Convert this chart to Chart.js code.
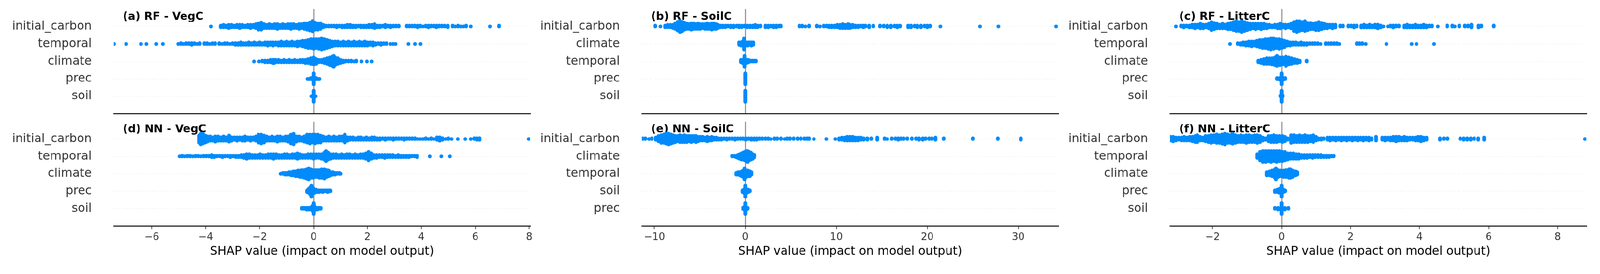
<!DOCTYPE html>
<html><head><meta charset="utf-8">
<script src="https://cdn.jsdelivr.net/npm/chart.js@4.4.0/dist/chart.umd.min.js"></script>
<style>
html,body{margin:0;padding:0;background:#fff;overflow:hidden;}
#wrap{position:absolute;left:0;top:0;width:4205px;height:702px;transform-origin:0 0;}
#wrap canvas{position:absolute;}
</style></head><body>
<div id="wrap"></div>
<script>
// ---------- categories ----------
const features_rf_vegc    = ["initial_carbon","temporal","climate","prec","soil"];
const features_rf_soilc   = ["initial_carbon","climate","temporal","prec","soil"];
const features_rf_litterc = ["initial_carbon","temporal","climate","prec","soil"];
const features_nn_vegc    = ["initial_carbon","temporal","climate","prec","soil"];
const features_nn_soilc   = ["initial_carbon","climate","temporal","soil","prec"];
const features_nn_litterc = ["initial_carbon","temporal","climate","prec","soil"];

// ---------- tick labels / axis limits ----------
const ticks_vegc    = [-6,-4,-2,0,2,4,6,8];
const ticks_soilc   = [-10,0,10,20,30];
const ticks_litterc = [-2,0,2,4,6,8];
const xlim_vegc    = [-7.41, 8.03];
const xlim_soilc   = [-11.38, 34.39];
const xlim_litterc = [-3.23, 8.83];

// ---------- SHAP values: [value, number of samples stacked at that value] ----------
// (a) RF - VegC
const a_initial_carbon = [[-3.81,1],[-3.44,3],[-3.34,4],[-3.24,3],[-3.14,5],[-3.04,4],[-2.94,3],[-2.84,4],[-2.74,5],[-2.64,4],[-2.54,3],[-2.44,4],[-2.34,5],[-2.24,4],[-2.14,6],[-2.04,9],[-1.94,10],[-1.84,6],[-1.74,5],[-1.64,6],[-1.54,5],[-1.44,6],[-1.34,7],[-1.24,5],[-1.14,6],[-1.04,5],[-0.94,6],[-0.84,7],[-0.74,6],[-0.64,5],[-0.54,7],[-0.44,6],[-0.34,8],[-0.24,9],[-0.14,11],[-0.04,14],[0.06,10],[0.16,9],[0.26,8],[0.36,4],[0.46,2],[0.56,2],[0.66,2],[0.76,2],[0.86,3],[0.96,2],[1.06,3],[1.16,3],[1.26,4],[1.36,4],[1.46,3],[1.56,3],[1.66,2],[1.76,3],[1.86,3],[1.96,3],[2.06,4],[2.16,4],[2.26,6],[2.36,3],[2.46,3],[2.56,2],[2.66,4],[2.76,2],[2.86,3],[2.96,2],[3.06,2],[3.16,2],[3.46,2],[3.56,2],[3.66,2],[3.76,2],[3.86,3],[3.96,2],[4.06,1],[4.16,2],[4.26,3],[4.36,2],[4.46,2],[4.56,3],[4.66,2],[4.76,2],[4.86,2],[4.98,3],[5.16,2],[5.26,1],[5.36,2],[5.46,1],[5.56,1],[5.66,2],[5.83,1],[6.54,1],[6.88,2]];
const a_temporal = [[-7.40,1],[-6.95,1],[-6.40,1],[-6.20,1],[-5.83,1],[-5.59,1],[-5.02,1],[-4.92,2],[-4.82,1],[-4.72,2],[-4.62,2],[-4.52,3],[-4.42,2],[-4.32,1],[-4.22,2],[-4.05,2],[-3.95,2],[-3.85,1],[-3.75,2],[-3.65,2],[-3.50,2],[-3.40,1],[-3.30,2],[-3.20,2],[-3.10,1],[-3.00,2],[-2.90,3],[-2.80,3],[-2.70,4],[-2.60,3],[-2.50,3],[-2.40,4],[-2.30,3],[-2.20,4],[-2.10,3],[-2.00,4],[-1.90,3],[-1.80,4],[-1.70,5],[-1.60,4],[-1.50,5],[-1.40,4],[-1.30,5],[-1.20,6],[-1.10,5],[-1.00,6],[-0.90,5],[-0.80,6],[-0.70,5],[-0.60,7],[-0.50,6],[-0.40,8],[-0.30,9],[-0.20,11],[-0.10,12],[0.00,13],[0.10,12],[0.20,13],[0.30,15],[0.40,13],[0.50,11],[0.60,9],[0.70,7],[0.80,6],[0.90,6],[1.00,5],[1.10,6],[1.20,5],[1.30,6],[1.40,5],[1.50,6],[1.60,5],[1.70,6],[1.80,5],[1.90,6],[2.00,5],[2.10,4],[2.20,5],[2.30,3],[2.40,2],[2.50,3],[2.60,2],[2.70,2],[2.85,1],[2.95,1],[3.04,1],[3.52,1],[3.76,1],[3.97,1]];
const a_climate = [[-2.21,1],[-2.02,1],[-1.90,2],[-1.80,3],[-1.70,3],[-1.60,4],[-1.50,5],[-1.46,5],[-1.40,4],[-1.30,4],[-1.20,3],[-1.10,4],[-1.00,3],[-0.90,4],[-0.80,3],[-0.70,4],[-0.60,3],[-0.50,4],[-0.40,4],[-0.30,5],[-0.20,6],[-0.10,8],[0.00,10],[0.10,7],[0.20,4],[0.30,4],[0.40,6],[0.50,8],[0.60,11],[0.70,13],[0.75,15],[0.80,11],[0.90,8],[1.00,5],[1.10,3],[1.20,2],[1.30,2],[1.40,2],[1.50,1],[1.58,2],[1.78,1],[1.98,1],[2.15,1]];
const a_prec = [[-0.22,1],[-0.16,1],[-0.10,2],[-0.04,3],[0,15],[0.04,3],[0.10,2],[0.16,1],[0.22,1]];
const a_soil = [[-0.08,1],[-0.03,3],[0,17],[0.03,3],[0.08,1]];

// (b) RF - SoilC
const b_initial_carbon = [[-9.9,2],[-9.34,1],[-8.83,3],[-8.55,4],[-8.25,4],[-7.95,5],[-7.70,8],[-7.45,12],[-7.20,15],[-6.95,13],[-6.70,10],[-6.45,8],[-6.20,7],[-5.95,9],[-5.70,8],[-5.45,7],[-5.20,8],[-4.95,7],[-4.70,6],[-4.45,7],[-4.20,8],[-3.95,7],[-3.70,9],[-3.45,8],[-3.20,7],[-3.03,5],[-2.76,3],[-2.50,3],[-2.20,3],[-1.90,2],[-1.60,3],[-1.30,3],[-0.97,2],[-0.70,3],[-0.40,3],[-0.10,2],[0.20,3],[0.50,3],[0.80,3],[1.08,4],[1.35,3],[1.65,2],[2.20,3],[2.50,3],[2.80,2],[3.10,3],[3.40,3],[3.70,2],[3.88,2],[5.94,2],[6.25,2],[6.6,1],[7.0,2],[7.87,2],[8.2,1],[8.62,2],[8.93,2],[9.2,3],[9.5,3],[9.8,3],[10.1,4],[10.4,5],[10.7,6],[11.0,5],[11.3,6],[11.5,5],[11.8,4],[12.1,3],[12.4,3],[12.7,2],[12.97,3],[13.2,2],[13.6,3],[14.06,2],[14.8,2],[15.2,2],[15.6,3],[16.0,3],[16.4,2],[16.7,3],[17.0,2],[17.9,3],[18.2,3],[18.6,2],[18.9,3],[19.3,3],[19.7,2],[20.0,3],[20.3,2],[21.44,1],[25.8,1],[27.82,1],[34.16,1]];
const b_climate = [[-0.70,4],[-0.50,5],[-0.30,6],[-0.13,15],[0.05,5],[0.25,5],[0.45,4],[0.65,5],[0.85,4]];
const b_temporal = [[-0.50,4],[-0.30,5],[-0.08,15],[0.12,5],[0.33,4],[0.55,2],[0.75,2],[0.95,2],[1.17,2]];
const b_prec = [[0,15]];
const b_soil = [[0,17]];

// (c) RF - LitterC
const c_initial_carbon = [[-3.06,1],[-2.91,2],[-2.83,3],[-2.75,2],[-2.67,3],[-2.59,4],[-2.51,5],[-2.43,4],[-2.35,6],[-2.27,5],[-2.19,4],[-2.11,6],[-2.03,10],[-1.95,8],[-1.87,6],[-1.79,5],[-1.71,6],[-1.63,5],[-1.55,7],[-1.47,8],[-1.39,10],[-1.31,12],[-1.23,11],[-1.15,13],[-1.07,11],[-0.99,9],[-0.91,7],[-0.83,6],[-0.75,7],[-0.67,6],[-0.59,7],[-0.51,6],[-0.43,5],[-0.35,4],[-0.27,3],[-0.19,4],[-0.11,5],[-0.04,6],[0.04,4],[0.12,5],[0.20,4],[0.28,6],[0.36,11],[0.44,13],[0.52,12],[0.60,10],[0.68,12],[0.76,9],[0.84,8],[0.92,7],[1.00,9],[1.08,10],[1.16,8],[1.24,6],[1.32,5],[1.40,4],[1.48,5],[1.56,4],[1.70,2],[1.78,2],[1.94,2],[2.02,2],[2.10,3],[2.18,2],[2.31,3],[2.39,4],[2.47,3],[2.55,4],[2.63,3],[2.71,4],[2.79,5],[2.87,3],[2.95,1],[3.08,1],[3.16,2],[3.24,3],[3.32,2],[3.40,2],[3.56,3],[3.64,4],[3.72,3],[3.80,3],[3.88,4],[3.96,3],[4.04,3],[4.12,4],[4.20,3],[4.28,2],[4.36,2],[4.53,1],[4.80,2],[4.95,2],[5.02,1],[5.15,2],[5.31,2],[5.40,2],[5.50,4],[5.71,3],[5.79,2],[6.15,2]];
const c_temporal = [[-1.49,1],[-1.27,2],[-1.19,3],[-1.11,4],[-1.03,5],[-0.95,6],[-0.87,7],[-0.79,6],[-0.71,8],[-0.63,10],[-0.55,11],[-0.47,12],[-0.39,13],[-0.31,15],[-0.23,14],[-0.15,12],[-0.07,13],[0.01,11],[0.09,9],[0.17,6],[0.25,5],[0.33,4],[0.41,4],[0.49,3],[0.57,4],[0.65,3],[0.73,3],[0.81,2],[0.89,2],[0.97,2],[1.05,2],[1.13,1],[1.28,2],[1.36,2],[1.44,2],[1.52,2],[1.60,2],[1.67,1],[2.18,2],[2.26,2],[2.34,2],[2.44,1],[3.04,1],[3.77,1],[3.91,1],[4.42,1]];
const c_climate = [[-0.67,3],[-0.59,5],[-0.51,7],[-0.43,8],[-0.35,8],[-0.27,9],[-0.19,11],[-0.13,14],[-0.05,11],[0.03,10],[0.13,13],[0.21,10],[0.29,8],[0.37,6],[0.45,5],[0.53,3],[0.73,2]];
const c_prec = [[-0.13,2],[-0.06,3],[0,15],[0.06,3],[0.11,2]];
const c_soil = [[-0.03,2],[0,17],[0.03,2]];

// (d) NN - VegC
const d_initial_carbon = [[-4.25,9],[-4.18,13],[-4.10,12],[-4.02,9],[-3.94,7],[-3.84,6],[-3.74,5],[-3.64,7],[-3.54,6],[-3.44,5],[-3.34,6],[-3.24,5],[-3.13,8],[-3.04,5],[-2.94,4],[-2.84,5],[-2.74,4],[-2.64,5],[-2.54,6],[-2.44,4],[-2.34,5],[-2.24,4],[-2.14,6],[-2.04,10],[-1.94,11],[-1.84,9],[-1.74,6],[-1.64,5],[-1.54,6],[-1.44,5],[-1.34,7],[-1.24,6],[-1.14,5],[-1.04,6],[-0.94,7],[-0.84,11],[-0.74,13],[-0.64,7],[-0.54,6],[-0.44,5],[-0.34,7],[-0.24,10],[-0.14,11],[-0.04,10],[0.06,11],[0.16,10],[0.26,9],[0.36,6],[0.46,5],[0.56,6],[0.66,5],[0.76,6],[0.86,5],[0.96,6],[1.06,6],[1.16,10],[1.26,5],[1.36,4],[1.46,4],[1.56,3],[1.66,4],[1.76,4],[1.86,3],[1.96,4],[2.06,3],[2.16,4],[2.26,4],[2.36,3],[2.46,3],[2.56,2],[2.66,3],[2.76,2],[2.86,2],[2.96,3],[3.06,2],[3.16,2],[3.26,2],[3.36,3],[3.46,2],[3.56,2],[3.66,2],[3.76,2],[3.86,1],[3.96,1],[4.06,1],[4.16,2],[4.26,1],[4.36,2],[4.46,1],[4.58,4],[4.68,5],[4.78,3],[4.90,1],[5.00,2],[5.12,1],[5.35,1],[5.63,1],[5.83,1],[5.96,2],[6.06,3],[6.16,3],[7.98,1]];
const d_temporal = [[-4.97,1],[-4.88,2],[-4.78,1],[-4.68,2],[-4.58,2],[-4.48,1],[-4.38,2],[-4.28,2],[-4.18,1],[-4.08,2],[-3.98,2],[-3.88,2],[-3.78,4],[-3.68,3],[-3.58,2],[-3.48,2],[-3.38,3],[-3.28,2],[-3.18,2],[-3.08,3],[-2.98,2],[-2.88,3],[-2.78,3],[-2.68,4],[-2.58,5],[-2.48,7],[-2.38,6],[-2.28,5],[-2.18,5],[-2.08,5],[-1.98,6],[-1.88,5],[-1.78,5],[-1.68,6],[-1.58,6],[-1.48,7],[-1.38,6],[-1.28,5],[-1.18,5],[-1.08,6],[-0.98,6],[-0.88,5],[-0.78,6],[-0.68,6],[-0.60,8],[-0.50,6],[-0.40,5],[-0.30,5],[-0.20,6],[-0.10,6],[0.00,7],[0.10,6],[0.20,6],[0.30,7],[0.40,10],[0.46,14],[0.54,10],[0.64,7],[0.74,6],[0.84,6],[0.94,5],[1.04,6],[1.14,5],[1.24,6],[1.34,6],[1.44,5],[1.54,6],[1.64,5],[1.74,6],[1.84,6],[1.94,8],[2.04,12],[2.14,8],[2.24,5],[2.34,5],[2.44,4],[2.54,4],[2.64,5],[2.74,4],[2.84,4],[2.94,4],[3.04,3],[3.14,4],[3.24,3],[3.34,3],[3.44,3],[3.54,3],[3.64,2],[3.74,2],[3.84,3],[4.31,1],[4.74,1],[5.06,1]];
const d_climate = [[-1.22,1],[-1.14,2],[-1.06,3],[-0.98,3],[-0.90,4],[-0.82,5],[-0.74,6],[-0.66,7],[-0.58,8],[-0.50,9],[-0.42,10],[-0.34,11],[-0.26,13],[-0.18,15],[-0.10,12],[-0.02,11],[0.06,10],[0.14,10],[0.22,11],[0.30,12],[0.40,13],[0.48,10],[0.56,8],[0.64,5],[0.72,4],[0.80,3],[0.88,2],[0.96,2],[1.00,1]];
const d_prec = [[-0.24,3],[-0.18,6],[-0.12,10],[-0.08,15],[-0.02,8],[0.04,5],[0.10,4],[0.16,3],[0.22,3],[0.28,2],[0.34,3],[0.40,2],[0.46,2],[0.52,3],[0.58,2],[0.63,2]];
const d_soil = [[-0.44,2],[-0.38,2],[-0.32,2],[-0.26,3],[-0.20,3],[-0.14,3],[-0.08,4],[-0.03,8],[0.00,15],[0.04,6],[0.09,3],[0.15,3],[0.21,2],[0.27,2]];

// (e) NN - SoilC
const e_initial_carbon = [[-11.3,2],[-11.0,2],[-10.6,1],[-10.3,2],[-9.85,4],[-9.55,8],[-9.25,11],[-8.95,12],[-8.70,14],[-8.45,15],[-8.20,13],[-7.95,11],[-7.70,9],[-7.45,8],[-7.20,10],[-6.95,9],[-6.70,10],[-6.45,9],[-6.20,8],[-5.95,9],[-5.70,8],[-5.45,9],[-5.20,7],[-4.95,6],[-4.70,6],[-4.45,5],[-4.20,7],[-3.95,5],[-3.70,6],[-3.45,4],[-3.20,4],[-2.95,3],[-2.65,3],[-2.35,2],[-2.05,3],[-1.75,2],[-1.45,2],[-1.15,3],[-0.85,2],[-0.55,2],[-0.25,2],[0.05,3],[0.35,2],[0.65,3],[0.95,3],[1.25,3],[1.55,2],[1.85,2],[2.2,2],[2.5,2],[2.8,1],[3.2,2],[3.5,2],[3.9,2],[4.3,1],[4.6,2],[4.9,2],[5.3,2],[5.73,2],[6.1,2],[6.5,2],[6.8,2],[7.0,2],[7.53,1],[8.89,1],[9.89,1],[10.3,3],[10.6,4],[10.9,5],[11.2,6],[11.5,6],[11.8,6],[12.1,5],[12.4,5],[12.7,4],[13.0,3],[13.4,3],[13.83,2],[14.5,4],[15.3,2],[15.6,1],[16.1,2],[16.5,2],[16.8,3],[17.1,2],[17.4,2],[17.8,2],[18.3,2],[18.75,2],[19.1,3],[19.5,3],[19.8,2],[20.2,2],[20.5,2],[20.9,4],[21.8,2],[25.0,2],[27.76,2],[30.28,3]];
const e_climate = [[-1.44,2],[-1.24,2],[-1.04,3],[-0.84,5],[-0.64,7],[-0.44,9],[-0.24,10],[-0.04,12],[0.12,14],[0.24,15],[0.40,12],[0.60,10],[0.80,7],[0.99,4]];
const e_temporal = [[-1.01,3],[-0.81,4],[-0.61,5],[-0.41,7],[-0.22,9],[-0.08,15],[0.08,9],[0.28,8],[0.48,7],[0.65,4]];
const e_soil = [[-0.33,3],[-0.15,5],[0,15],[0.15,5],[0.32,4],[0.48,2]];
const e_prec = [[-0.26,2],[-0.12,4],[0,15],[0.12,3],[0.24,2]];

// (f) NN - LitterC
const f_initial_carbon = [[-3.22,6],[-3.14,7],[-3.06,5],[-2.98,4],[-2.90,5],[-2.82,6],[-2.74,5],[-2.66,6],[-2.58,7],[-2.50,9],[-2.44,10],[-2.36,6],[-2.28,5],[-2.20,8],[-2.12,9],[-2.04,11],[-1.96,10],[-1.88,12],[-1.80,11],[-1.72,13],[-1.64,15],[-1.56,12],[-1.48,11],[-1.42,14],[-1.34,11],[-1.26,9],[-1.18,10],[-1.10,9],[-1.02,11],[-0.94,10],[-0.86,9],[-0.78,10],[-0.70,11],[-0.62,9],[-0.54,5],[-0.46,3],[-0.38,8],[-0.30,9],[-0.22,10],[-0.14,9],[-0.06,8],[0.02,9],[0.10,7],[0.18,3],[0.28,11],[0.36,10],[0.44,9],[0.52,10],[0.60,9],[0.68,10],[0.76,9],[0.84,8],[0.92,10],[1.00,6],[1.07,3],[1.15,3],[1.22,2],[1.33,4],[1.41,5],[1.49,4],[1.57,5],[1.65,4],[1.73,5],[1.81,4],[1.89,5],[1.97,4],[2.05,5],[2.13,4],[2.21,5],[2.29,4],[2.37,5],[2.45,4],[2.53,5],[2.61,3],[2.74,6],[2.92,4],[3.00,5],[3.08,4],[3.16,5],[3.24,6],[3.32,7],[3.40,6],[3.48,5],[3.56,6],[3.64,5],[3.72,4],[3.80,4],[3.88,5],[3.96,6],[4.04,7],[4.12,5],[4.20,4],[4.59,3],[4.70,2],[4.81,2],[5.18,2],[5.28,3],[5.38,3],[5.48,3],[5.58,2],[5.70,3],[5.87,4],[8.79,1]];
const f_temporal = [[-0.70,6],[-0.62,12],[-0.54,15],[-0.46,15],[-0.38,14],[-0.30,15],[-0.22,14],[-0.14,15],[-0.06,14],[0.02,13],[0.10,12],[0.18,9],[0.26,8],[0.34,8],[0.42,7],[0.50,7],[0.58,5],[0.66,5],[0.74,5],[0.82,4],[0.90,5],[0.98,4],[1.06,4],[1.14,4],[1.22,3],[1.30,3],[1.38,3],[1.46,2],[1.51,2]];
const f_climate = [[-0.43,5],[-0.35,6],[-0.27,8],[-0.19,12],[-0.16,15],[-0.10,10],[-0.02,8],[0.06,9],[0.14,10],[0.22,12],[0.26,12],[0.32,9],[0.40,6],[0.45,4]];
const f_prec = [[-0.19,3],[-0.12,4],[-0.06,6],[0,15],[0.06,4],[0.11,2]];
const f_soil = [[-0.19,2],[-0.1,3],[0,15],[0.1,3],[0.2,2]];

// ---------- panels ----------
const panels = [
  {title:"(a) RF - VegC",   col:0, row:0, features:features_rf_vegc,    rows:[a_initial_carbon,a_temporal,a_climate,a_prec,a_soil], ticks:ticks_vegc, xlim:xlim_vegc},
  {title:"(b) RF - SoilC",  col:1, row:0, features:features_rf_soilc,   rows:[b_initial_carbon,b_climate,b_temporal,b_prec,b_soil], ticks:ticks_soilc, xlim:xlim_soilc},
  {title:"(c) RF - LitterC",col:2, row:0, features:features_rf_litterc, rows:[c_initial_carbon,c_temporal,c_climate,c_prec,c_soil], ticks:ticks_litterc, xlim:xlim_litterc},
  {title:"(d) NN - VegC",   col:0, row:1, features:features_nn_vegc,    rows:[d_initial_carbon,d_temporal,d_climate,d_prec,d_soil], ticks:ticks_vegc, xlim:xlim_vegc},
  {title:"(e) NN - SoilC",  col:1, row:1, features:features_nn_soilc,   rows:[e_initial_carbon,e_climate,e_temporal,e_soil,e_prec], ticks:ticks_soilc, xlim:xlim_soilc},
  {title:"(f) NN - LitterC",col:2, row:1, features:features_nn_litterc, rows:[f_initial_carbon,f_temporal,f_climate,f_prec,f_soil], ticks:ticks_litterc, xlim:xlim_litterc}
];

// ---------- layout ----------
const FONT = "'DejaVu Sans', 'Liberation Sans', sans-serif";
Chart.defaults.font.family = FONT;
const COL_LEFT = [0, 1388, 2776];
const YW = 299, PLOT_W = 1094, RPAD = 14;
const CANVAS_W = YW + PLOT_W + RPAD;
const ROWGEOM = [
  {top:0,   height:310, padTop:24, xh:11},
  {top:300, height:402, padTop:20, xh:107.5}
];

// fit the 4205x702 drawing into the window actually available
const dpr = window.devicePixelRatio || 1;
const fit = Math.min(1 / dpr, window.innerWidth / 4205, window.innerHeight / 702);
const wrap = document.getElementById('wrap');
wrap.style.transform = 'scale(' + fit + ')';

// beeswarm layout (as in shap.summary_plot): stack samples of a value alternately up/down
function swarm(pairs, rowPos) {
  const raw = [];
  pairs.forEach(([v, c]) => {
    for (let k = 0; k < c; k++) raw.push({x: v, layer: Math.ceil(k / 2) * ((k % 2) * 2 - 1)});
  });
  const maxL = Math.max(...raw.map(p => p.layer)) + 1;
  const s = 0.9 * 0.4 / maxL;
  return raw.map(p => ({x: p.x, y: rowPos + p.layer * s}));
}

function fmt(v) { return v < 0 ? '\u2212' + Math.abs(v) : String(v); }

const panelTitle = {
  id: 'panelTitle',
  beforeDatasetsDraw(chart, args, opts) {
    const {ctx, chartArea} = chart;
    ctx.save();
    ctx.font = "bold 28.8px " + FONT;
    ctx.fillStyle = '#000';
    ctx.textAlign = 'left';
    ctx.textBaseline = 'alphabetic';
    ctx.fillText(opts.text, chartArea.left + 24, chartArea.top + 27.7);
    ctx.restore();
  }
};

panels.forEach(p => {
  const g = ROWGEOM[p.row];
  const isBottom = p.row === 1;
  const cv = document.createElement('canvas');
  cv.width = CANVAS_W; cv.height = g.height;
  cv.style.left = COL_LEFT[p.col] + 'px';
  cv.style.top = g.top + 'px';
  cv.style.width = CANVAS_W + 'px';
  cv.style.height = g.height + 'px';
  wrap.appendChild(cv);

  const n = p.features.length;
  let pts = [];
  p.rows.forEach((r, i) => { pts = pts.concat(swarm(r, n - 1 - i)); });

  new Chart(cv, {
    type: 'scatter',
    data: { datasets: [{
      data: pts,
      backgroundColor: '#008bfb',
      borderWidth: 0,
      pointRadius: 4.9,
      pointHoverRadius: 4.9,
      clip: 0
    }]},
    options: {
      responsive: false,
      animation: false,
      devicePixelRatio: 1,
      events: [],
      layout: { padding: { top: g.padTop, right: RPAD, bottom: 0, left: 0 } },
      plugins: {
        legend: { display: false },
        tooltip: { enabled: false },
        panelTitle: { text: p.title }
      },
      scales: {
        x: {
          type: 'linear',
          bounds: 'data',
          min: p.xlim[0], max: p.xlim[1],
          afterBuildTicks: s => { s.ticks = p.ticks.map(v => ({value: v})); },
          afterFit: s => { s.height = g.xh; s.paddingLeft = 0; s.paddingRight = 0; },
          ticks: {
            display: isBottom,
            autoSkip: false, maxRotation: 0,
            callback: v => fmt(v),
            font: { size: 26.4, family: FONT },
            color: '#333333',
            padding: 5
          },
          grid: {
            color: c => (c.tick && c.tick.value === 0) ? '#999999' : 'rgba(0,0,0,0)',
            lineWidth: 3,
            drawTicks: isBottom,
            tickLength: 8.4,
            tickColor: '#333333',
            tickWidth: 1.9
          },
          border: { display: true, color: '#000000', width: 2.5 },
          title: {
            display: isBottom,
            text: 'SHAP value (impact on model output)',
            font: { size: 31.2, family: FONT },
            color: '#000000',
            padding: { top: 0, bottom: 21.6 }
          }
        },
        y: {
          type: 'linear',
          min: -1, max: n,
          afterBuildTicks: s => { s.ticks = p.features.map((f, i) => ({value: i})); },
          afterFit: s => { s.width = YW; s.paddingTop = 0; s.paddingBottom = 0; },
          ticks: {
            autoSkip: false,
            callback: v => p.features[n - 1 - v],
            font: { size: 31.2, family: FONT },
            color: '#333333',
            padding: 58
          },
          grid: { color: '#cccccc', lineWidth: 1.2, drawTicks: false },
          border: { display: false, dash: [1.2, 6] }
        }
      }
    },
    plugins: [panelTitle]
  });
});
</script>
</body></html>
